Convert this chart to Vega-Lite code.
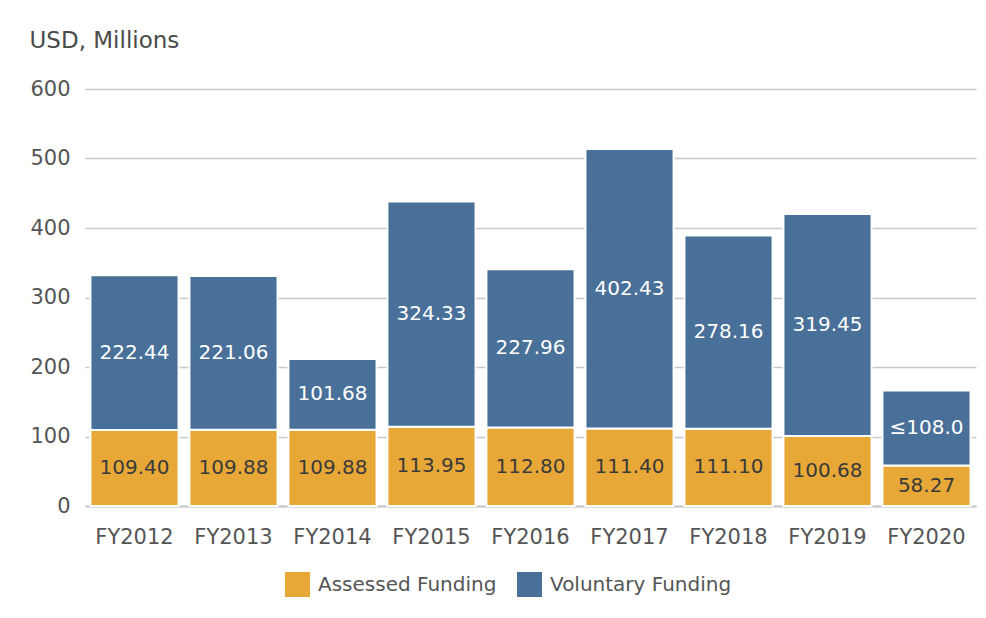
{
  "$schema": "https://vega.github.io/schema/vega-lite/v6.json",
  "autosize": {"type": "none"},
  "padding": {"left": 85, "top": 89, "right": 10, "bottom": 112},
  "width": 891,
  "height": 417,
  "background": "white",
  "config": {
    "font": "DejaVu Sans",
    "view": {"stroke": null}
  },
  "data": {
    "values": [
      {"year": "FY2012", "type": "Assessed Funding", "value": 109.40, "label": "109.40"},
      {"year": "FY2012", "type": "Voluntary Funding", "value": 222.44, "label": "222.44"},
      {"year": "FY2013", "type": "Assessed Funding", "value": 109.88, "label": "109.88"},
      {"year": "FY2013", "type": "Voluntary Funding", "value": 221.06, "label": "221.06"},
      {"year": "FY2014", "type": "Assessed Funding", "value": 109.88, "label": "109.88"},
      {"year": "FY2014", "type": "Voluntary Funding", "value": 101.68, "label": "101.68"},
      {"year": "FY2015", "type": "Assessed Funding", "value": 113.95, "label": "113.95"},
      {"year": "FY2015", "type": "Voluntary Funding", "value": 324.33, "label": "324.33"},
      {"year": "FY2016", "type": "Assessed Funding", "value": 112.80, "label": "112.80"},
      {"year": "FY2016", "type": "Voluntary Funding", "value": 227.96, "label": "227.96"},
      {"year": "FY2017", "type": "Assessed Funding", "value": 111.40, "label": "111.40"},
      {"year": "FY2017", "type": "Voluntary Funding", "value": 402.43, "label": "402.43"},
      {"year": "FY2018", "type": "Assessed Funding", "value": 111.10, "label": "111.10"},
      {"year": "FY2018", "type": "Voluntary Funding", "value": 278.16, "label": "278.16"},
      {"year": "FY2019", "type": "Assessed Funding", "value": 100.68, "label": "100.68"},
      {"year": "FY2019", "type": "Voluntary Funding", "value": 319.45, "label": "319.45"},
      {"year": "FY2020", "type": "Assessed Funding", "value": 58.27, "label": "58.27"},
      {"year": "FY2020", "type": "Voluntary Funding", "value": 108.0, "label": "≤108.0"}
    ]
  },
  "transform": [
    {"stack": "value", "groupby": ["year"], "sort": [{"field": "type", "order": "ascending"}], "as": ["v0", "v1"]},
    {"calculate": "(datum.v0 + datum.v1) / 2", "as": "mid"}
  ],
  "encoding": {
    "x": {
      "field": "year",
      "type": "nominal",
      "sort": null,
      "scale": {"paddingInner": 0.11, "paddingOuter": 0.055},
      "axis": {
        "title": null,
        "labelAngle": 0,
        "labelFontSize": 21,
        "labelColor": "#555555",
        "labelBaseline": "middle",
        "labelPadding": 31,
        "ticks": false,
        "domain": true,
        "domainColor": "#c8c8c8",
        "domainWidth": 2
      }
    }
  },
  "layer": [
    {
      "mark": {"type": "bar", "stroke": "white", "strokeWidth": 2},
      "encoding": {
        "y": {
          "field": "v1",
          "type": "quantitative",
          "scale": {"domain": [0, 600]},
          "axis": {
            "title": "USD, Millions",
            "titleAngle": 0,
            "titleAlign": "left",
            "titleBaseline": "middle",
            "titleX": -56,
            "titleY": -49,
            "titleFontSize": 23,
            "titleFontWeight": "normal",
            "titleColor": "#4a4a4a",
            "values": [0, 100, 200, 300, 400, 500, 600],
            "labelFontSize": 21,
            "labelColor": "#555555",
            "labelPadding": 15,
            "ticks": false,
            "domain": false,
            "grid": true,
            "gridColor": "#c8c8c8",
            "gridWidth": 1.5
          }
        },
        "y2": {"field": "v0"},
        "color": {
          "field": "type",
          "type": "nominal",
          "scale": {"domain": ["Assessed Funding", "Voluntary Funding"], "range": ["#E8A838", "#497098"]},
          "legend": {
            "title": null,
            "orient": "none",
            "direction": "horizontal",
            "legendX": 200,
            "legendY": 483,
            "symbolType": "square",
            "symbolSize": 625,
            "symbolStrokeWidth": 0,
            "symbolOpacity": 1,
            "labelFontSize": 20,
            "labelColor": "#555555",
            "labelLimit": 0,
            "labelOffset": 8,
            "columnPadding": 20
          }
        }
      }
    },
    {
      "mark": {"type": "text", "fontSize": 20, "baseline": "middle", "align": "center"},
      "encoding": {
        "y": {"field": "mid", "type": "quantitative"},
        "text": {"field": "label"},
        "color": {
          "condition": {"test": "datum.type === 'Voluntary Funding'", "value": "white"},
          "value": "#3a3a3a"
        }
      }
    }
  ]
}
